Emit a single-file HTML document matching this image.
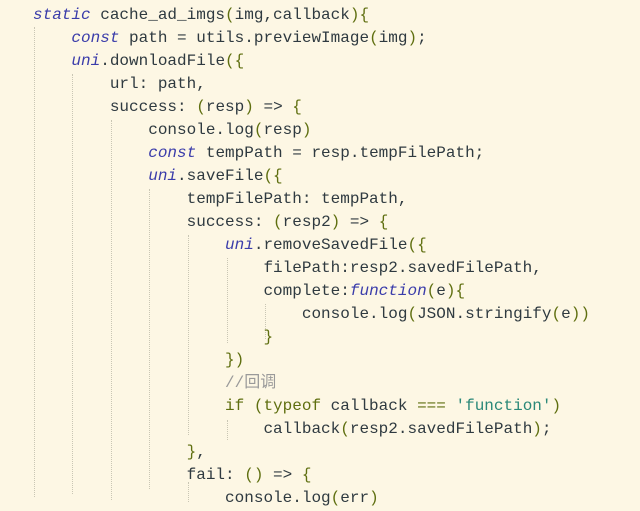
<!DOCTYPE html>
<html><head><meta charset="utf-8"><style>
html,body{margin:0;padding:0;}
body{width:640px;height:492px;overflow:hidden;background:#fdf7e4;position:relative;}
pre{position:absolute;left:33px;top:3.5px;margin:0;font-family:"Liberation Mono","Noto Sans CJK SC",monospace;font-size:16px;line-height:23.05px;color:#2f3a40;}
.k{color:#3a3caa;font-style:italic}
.g{color:#5f6f10}
.s{color:#2a8878}
.c{color:#9a9a9a}
.v{position:absolute;width:0;border-left:1px dotted #c9c6b4;}
</style></head><body>
<div class="v" style="left:34px;top:27px;height:470px"></div>
<div class="v" style="left:72px;top:74px;height:420px"></div>
<div class="v" style="left:111px;top:120px;height:380px"></div>
<div class="v" style="left:149px;top:189px;height:300px"></div>
<div class="v" style="left:188px;top:235px;height:200px"></div>
<div class="v" style="left:188px;top:482px;height:20px"></div>
<div class="v" style="left:227px;top:258px;height:85px"></div>
<div class="v" style="left:265px;top:304px;height:35px"></div>
<div class="v" style="left:227px;top:420px;height:20px"></div>
<pre><span class="k">static</span> cache_ad_imgs<span class="g">(</span>img,callback<span class="g">){</span>
    <span class="k">const</span> path = utils.previewImage<span class="g">(</span>img<span class="g">)</span>;
    <span class="k">uni</span>.downloadFile<span class="g">({</span>
        url: path,
        success: <span class="g">(</span>resp<span class="g">)</span> => <span class="g">{</span>
            console.log<span class="g">(</span>resp<span class="g">)</span>
            <span class="k">const</span> tempPath = resp.tempFilePath;
            <span class="k">uni</span>.saveFile<span class="g">({</span>
                tempFilePath: tempPath,
                success: <span class="g">(</span>resp2<span class="g">)</span> => <span class="g">{</span>
                    <span class="k">uni</span>.removeSavedFile<span class="g">({</span>
                        filePath:resp2.savedFilePath,
                        complete:<span class="k">function</span><span class="g">(</span>e<span class="g">){</span>
                            console.log<span class="g">(</span>JSON.stringify<span class="g">(</span>e<span class="g">))</span>
                        <span class="g">}</span>
                    <span class="g">})</span>
                    <span class="c">//回调</span>
                    <span class="g">if (typeof</span> callback <span class="g">===</span> <span class="s">'function'</span><span class="g">)</span>
                        callback<span class="g">(</span>resp2.savedFilePath<span class="g">)</span>;
                <span class="g">}</span>,
                fail: <span class="g">()</span> => <span class="g">{</span>
                    console.log<span class="g">(</span>err<span class="g">)</span>
</pre>
</body></html>
